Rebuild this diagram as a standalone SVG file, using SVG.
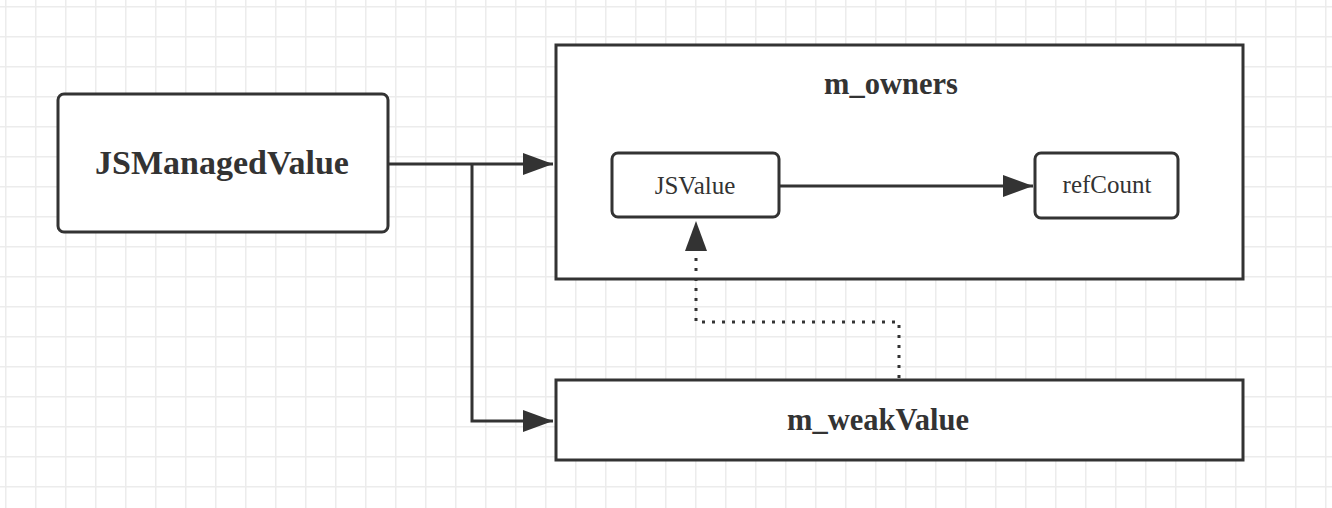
<svg xmlns="http://www.w3.org/2000/svg" width="1332" height="508" viewBox="0 0 1332 508">
<defs>
<pattern id="grid" x="5" y="6" width="30" height="30" patternUnits="userSpaceOnUse">
<path d="M0.5 0 V30 M0 0.5 H30" stroke="#ececec" stroke-width="2" fill="none"/>
</pattern>
<marker id="arr" viewBox="0 0 30 22" refX="30" refY="11" markerWidth="30" markerHeight="22" markerUnits="userSpaceOnUse" orient="auto">
<path d="M0 0 L30 11 L0 22 Z" fill="#333"/>
</marker>
</defs>
<style>
.box{fill:#fff;stroke:#333;stroke-width:3}
.big{font-family:"Liberation Serif","Times New Roman",serif;font-weight:bold;fill:#333;text-anchor:middle}
.small{font-family:"Liberation Serif","Times New Roman",serif;font-size:25px;fill:#333;text-anchor:middle}
.edge{fill:none;stroke:#333;stroke-width:3}
</style>
<rect width="1332" height="508" fill="#fff"/>
<rect width="1332" height="508" fill="url(#grid)"/>
<g id="jsmanagedvalue">
<rect class="box" x="58" y="94" width="330" height="138" rx="6"/>
<text class="big" x="222" y="174" font-size="34">JSManagedValue</text>
</g>
<g id="m_owners">
<rect class="box" x="556" y="45" width="687" height="234"/>
<text class="big" x="891" y="94" font-size="30.5">m_owners</text>
</g>
<g id="jsvalue">
<rect class="box" x="612" y="153" width="167" height="64" rx="6"/>
<text class="small" x="695" y="194">JSValue</text>
</g>
<g id="refcount">
<rect class="box" x="1035" y="153" width="143" height="65" rx="6"/>
<text class="small" x="1107" y="193">refCount</text>
</g>
<g id="m_weakvalue">
<rect class="box" x="556" y="380" width="687" height="80"/>
<text class="big" x="878" y="430" font-size="30.5">m_weakValue</text>
</g>
<g id="connectors">
<path class="edge" d="M388 164 H553" marker-end="url(#arr)"/>
<path class="edge" d="M472 164 V421 H553" marker-end="url(#arr)"/>
<path class="edge" d="M779 186 H1033" marker-end="url(#arr)"/>
<path class="edge" d="M899 378 V322 H696 V221" stroke-dasharray="3 7" marker-end="url(#arr)"/>
</g>
</svg>
